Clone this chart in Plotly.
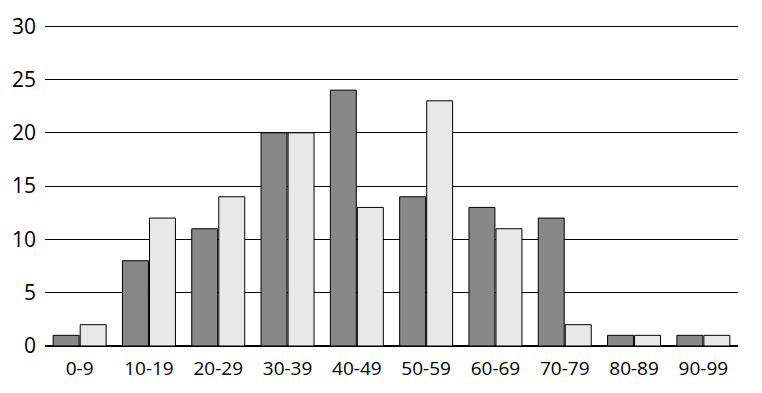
import plotly.graph_objects as go

categories = ["0-9", "10-19", "20-29", "30-39", "40-49", "50-59", "60-69", "70-79", "80-89", "90-99"]
series_a = [1, 8, 11, 20, 24, 14, 13, 12, 1, 1]
series_b = [2, 12, 14, 20, 13, 23, 11, 2, 1, 1]

fig = go.Figure()
fig.add_trace(go.Bar(x=categories, y=series_a, marker=dict(color="#888888", line=dict(color="#000000", width=1))))
fig.add_trace(go.Bar(x=categories, y=series_b, marker=dict(color="#e8e8e8", line=dict(color="#000000", width=1))))

fig.update_layout(
    width=762, height=393,
    margin=dict(l=45, r=24, t=22, b=45),
    paper_bgcolor="white", plot_bgcolor="white",
    barmode="group", bargap=0.22, bargroupgap=0.04,
    showlegend=False,
    font=dict(family="Open Sans", size=20, color="#000000"),
    xaxis=dict(showgrid=False, showline=False, ticks="", tickfont=dict(size=19), ticklabelstandoff=9),
    yaxis=dict(range=[0, 30.3], tickvals=[0, 5, 10, 15, 20, 25, 30], showgrid=True, gridcolor="#000000", gridwidth=1,
               zeroline=True, zerolinecolor="#000000", zerolinewidth=1.5, showline=False,
               ticks="", tickfont=dict(size=21), ticklabelstandoff=8),
)
fig.write_html("out.html")
